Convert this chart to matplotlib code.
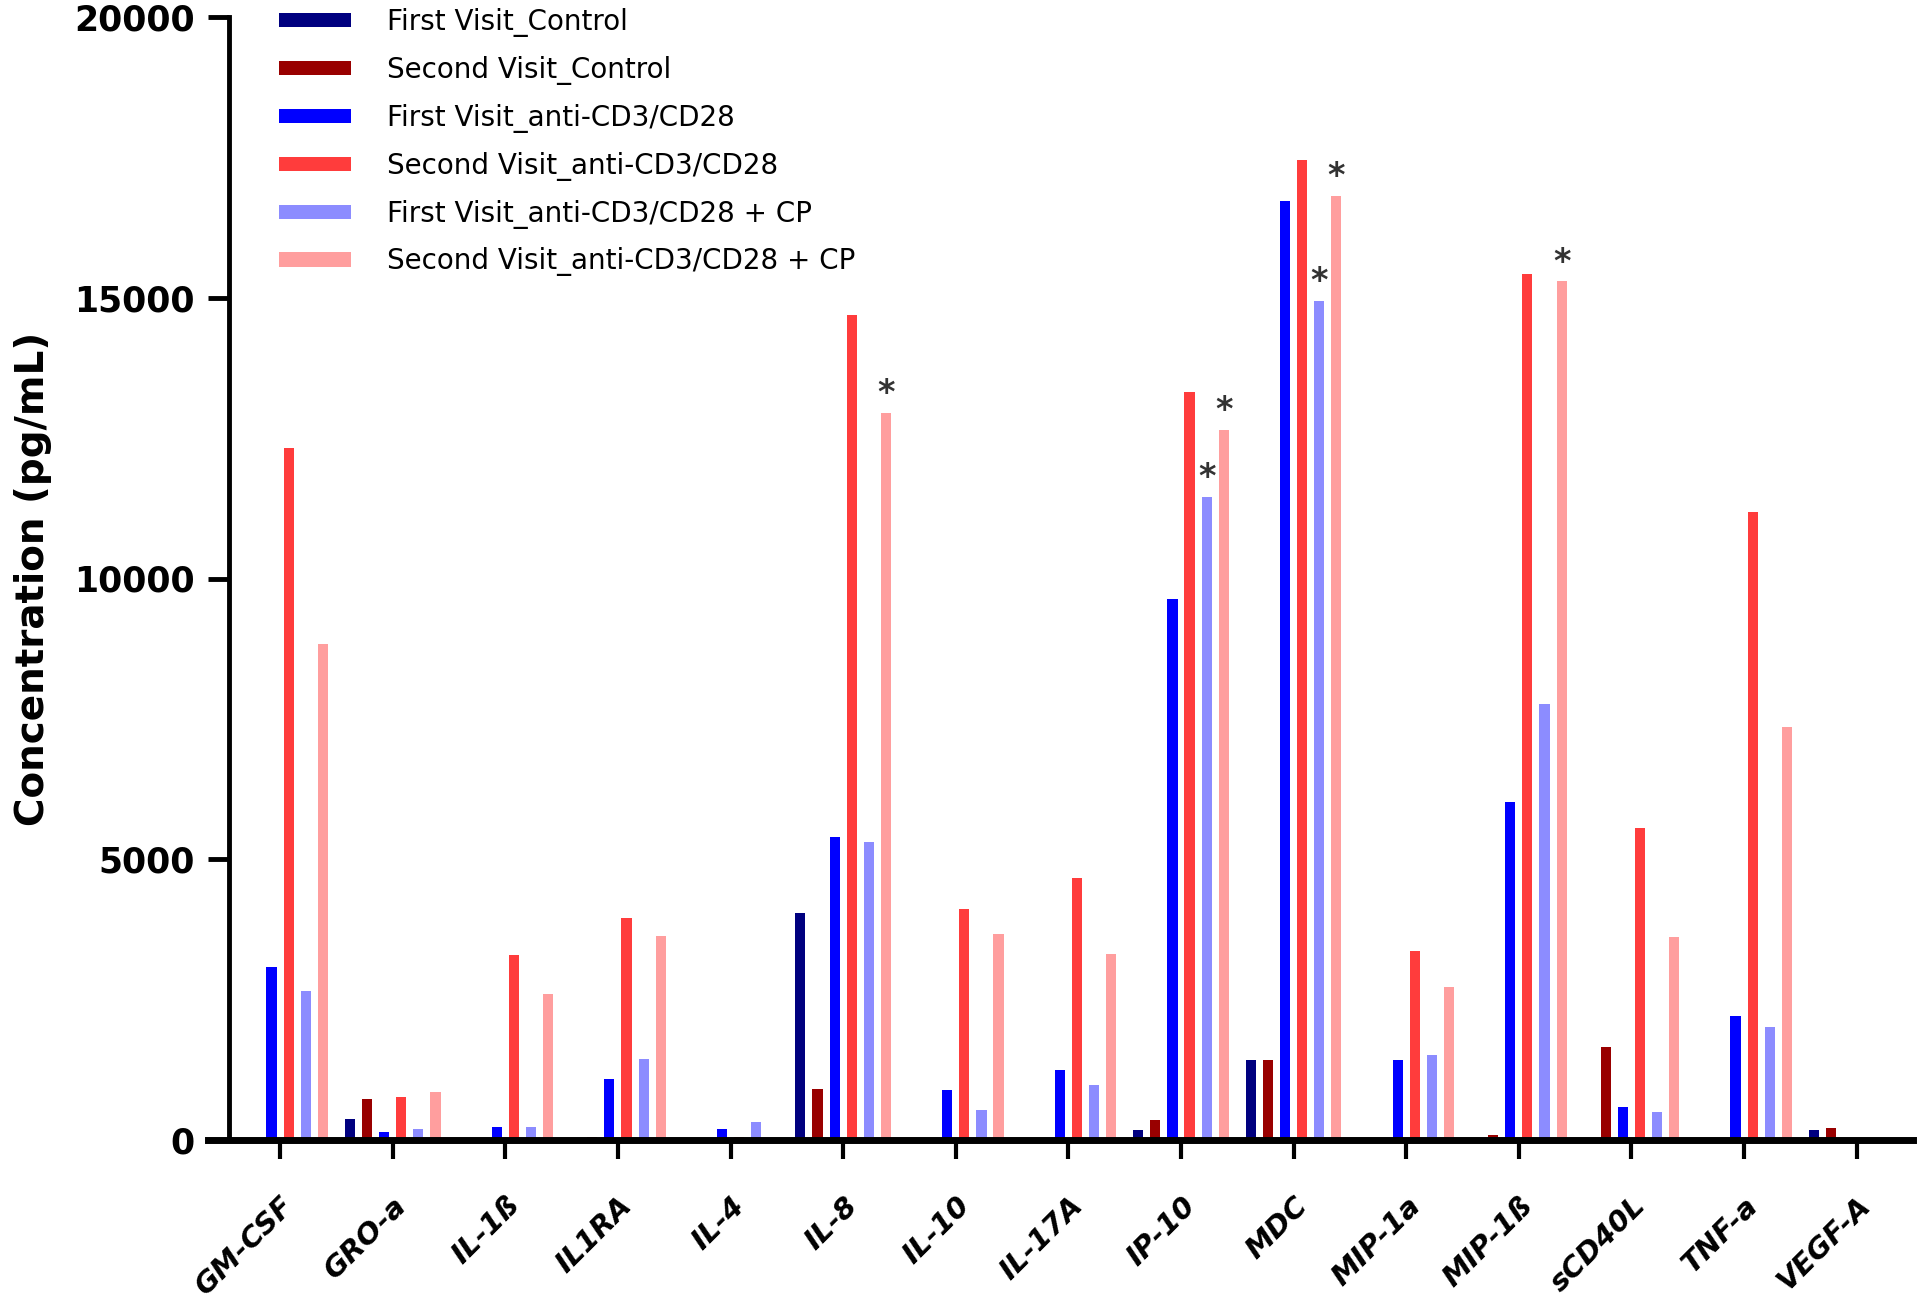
import matplotlib
matplotlib.use("Agg")
import matplotlib.pyplot as plt
import numpy as np

categories = ['GM-CSF', 'GRO-a', 'IL-1ß', 'IL1RA', 'IL-4', 'IL-8', 'IL-10', 'IL-17A',
              'IP-10', 'MDC', 'MIP-1a', 'MIP-1ß', 'sCD40L', 'TNF-a', 'VEGF-A']

first_control  = [0, 370, 0, 0, 0, 4050, 0, 0, 180, 1430, 0, 0, 0, 0, 180]
second_control = [0, 730, 0, 55, 0, 900, 0, 0, 360, 1430, 0, 85, 1650, 0, 220]
first_anti     = [3080, 145, 235, 1085, 190, 5390, 895, 1250, 9640, 16730, 1430, 6020, 580, 2200, 0]
second_anti    = [12320, 770, 3290, 3950, 55, 14700, 4115, 4665, 13330, 17450, 3360, 15420, 5560, 11190, 40]
first_cp       = [2660, 190, 235, 1440, 320, 5300, 535, 980, 11450, 14940, 1515, 7760, 490, 2010, 0]
second_cp      = [8840, 855, 2600, 3640, 40, 12950, 3670, 3310, 12650, 16820, 2725, 15290, 3620, 7350, 0]

series_labels = ['First Visit_Control', 'Second Visit_Control', 'First Visit_anti-CD3/CD28',
                 'Second Visit_anti-CD3/CD28', 'First Visit_anti-CD3/CD28 + CP',
                 'Second Visit_anti-CD3/CD28 + CP']
series_colors = ['#00007F', '#990000', '#0000FF', '#FF3C3C', '#8C8CFF', '#FF9E9E']

# significance marks: (category index, series index)
star_marks = [(5, 5), (8, 4), (8, 5), (9, 4), (9, 5), (11, 5)]

yticks = [0, 5000, 10000, 15000, 20000]

series = [first_control, second_control, first_anti, second_anti, first_cp, second_cp]

fig = plt.figure(figsize=(19.2, 13.01), dpi=100)
ax = fig.add_axes([208/1920, 1 - 1140/1301, (1913-208)/1920, (1140-17)/1301])

x = np.arange(len(categories))
step = 0.152
width = 0.09
handles = []
for i, (vals, lab, col) in enumerate(zip(series, series_labels, series_colors)):
    off = (i - 2.5) * step
    b = ax.bar(x + off, vals, width=width, color=col, label=lab, zorder=2)
    handles.append(b)

for ci, si in star_marks:
    ax.annotate('*', xy=(x[ci] + (si - 2.5) * step, series[si][ci]),
                xytext=(0, 2), textcoords='offset points', ha='center', va='bottom',
                fontsize=24, fontweight='bold', color='#333333', fontfamily='DejaVu Sans')

ax.set_xlim(-0.64, 14.5)
ax.set_ylim(0, 20000)

for s in ['top', 'right']:
    ax.spines[s].set_visible(False)
ax.spines['left'].set_position(('data', -0.45))
ax.spines['left'].set_linewidth(3.5)
ax.spines['bottom'].set_linewidth(5)
ax.spines['left'].set_zorder(3)
ax.spines['bottom'].set_zorder(3)

ax.set_yticks(yticks)
ax.set_yticklabels([str(v) for v in yticks], fontsize=25, fontweight='bold',
                   fontfamily='DejaVu Sans')
ax.tick_params(axis='y', length=15, width=3.5, pad=10)

ax.set_xticks(x)
ax.set_xticklabels(categories, rotation=45, ha='right', rotation_mode='anchor',
                   fontsize=21, fontweight='bold', fontstyle='italic', fontfamily='DejaVu Sans')
ax.tick_params(axis='x', length=14, width=3, pad=23)

ax.set_ylabel('Concentration (pg/mL)', fontsize=28, fontweight='bold',
              fontfamily='DejaVu Sans', labelpad=16)

leg = fig.legend(handles=handles, labels=series_labels, loc='upper left',
                 bbox_to_anchor=(279/1920, 1 - 8/1301), frameon=False,
                 prop={'family': 'DejaVu Sans', 'size': 20},
                 handlelength=2.6, handleheight=0.4, handletextpad=1.3,
                 labelspacing=0.68, borderpad=0, borderaxespad=0)

fig.savefig('out.png', dpi=100)
